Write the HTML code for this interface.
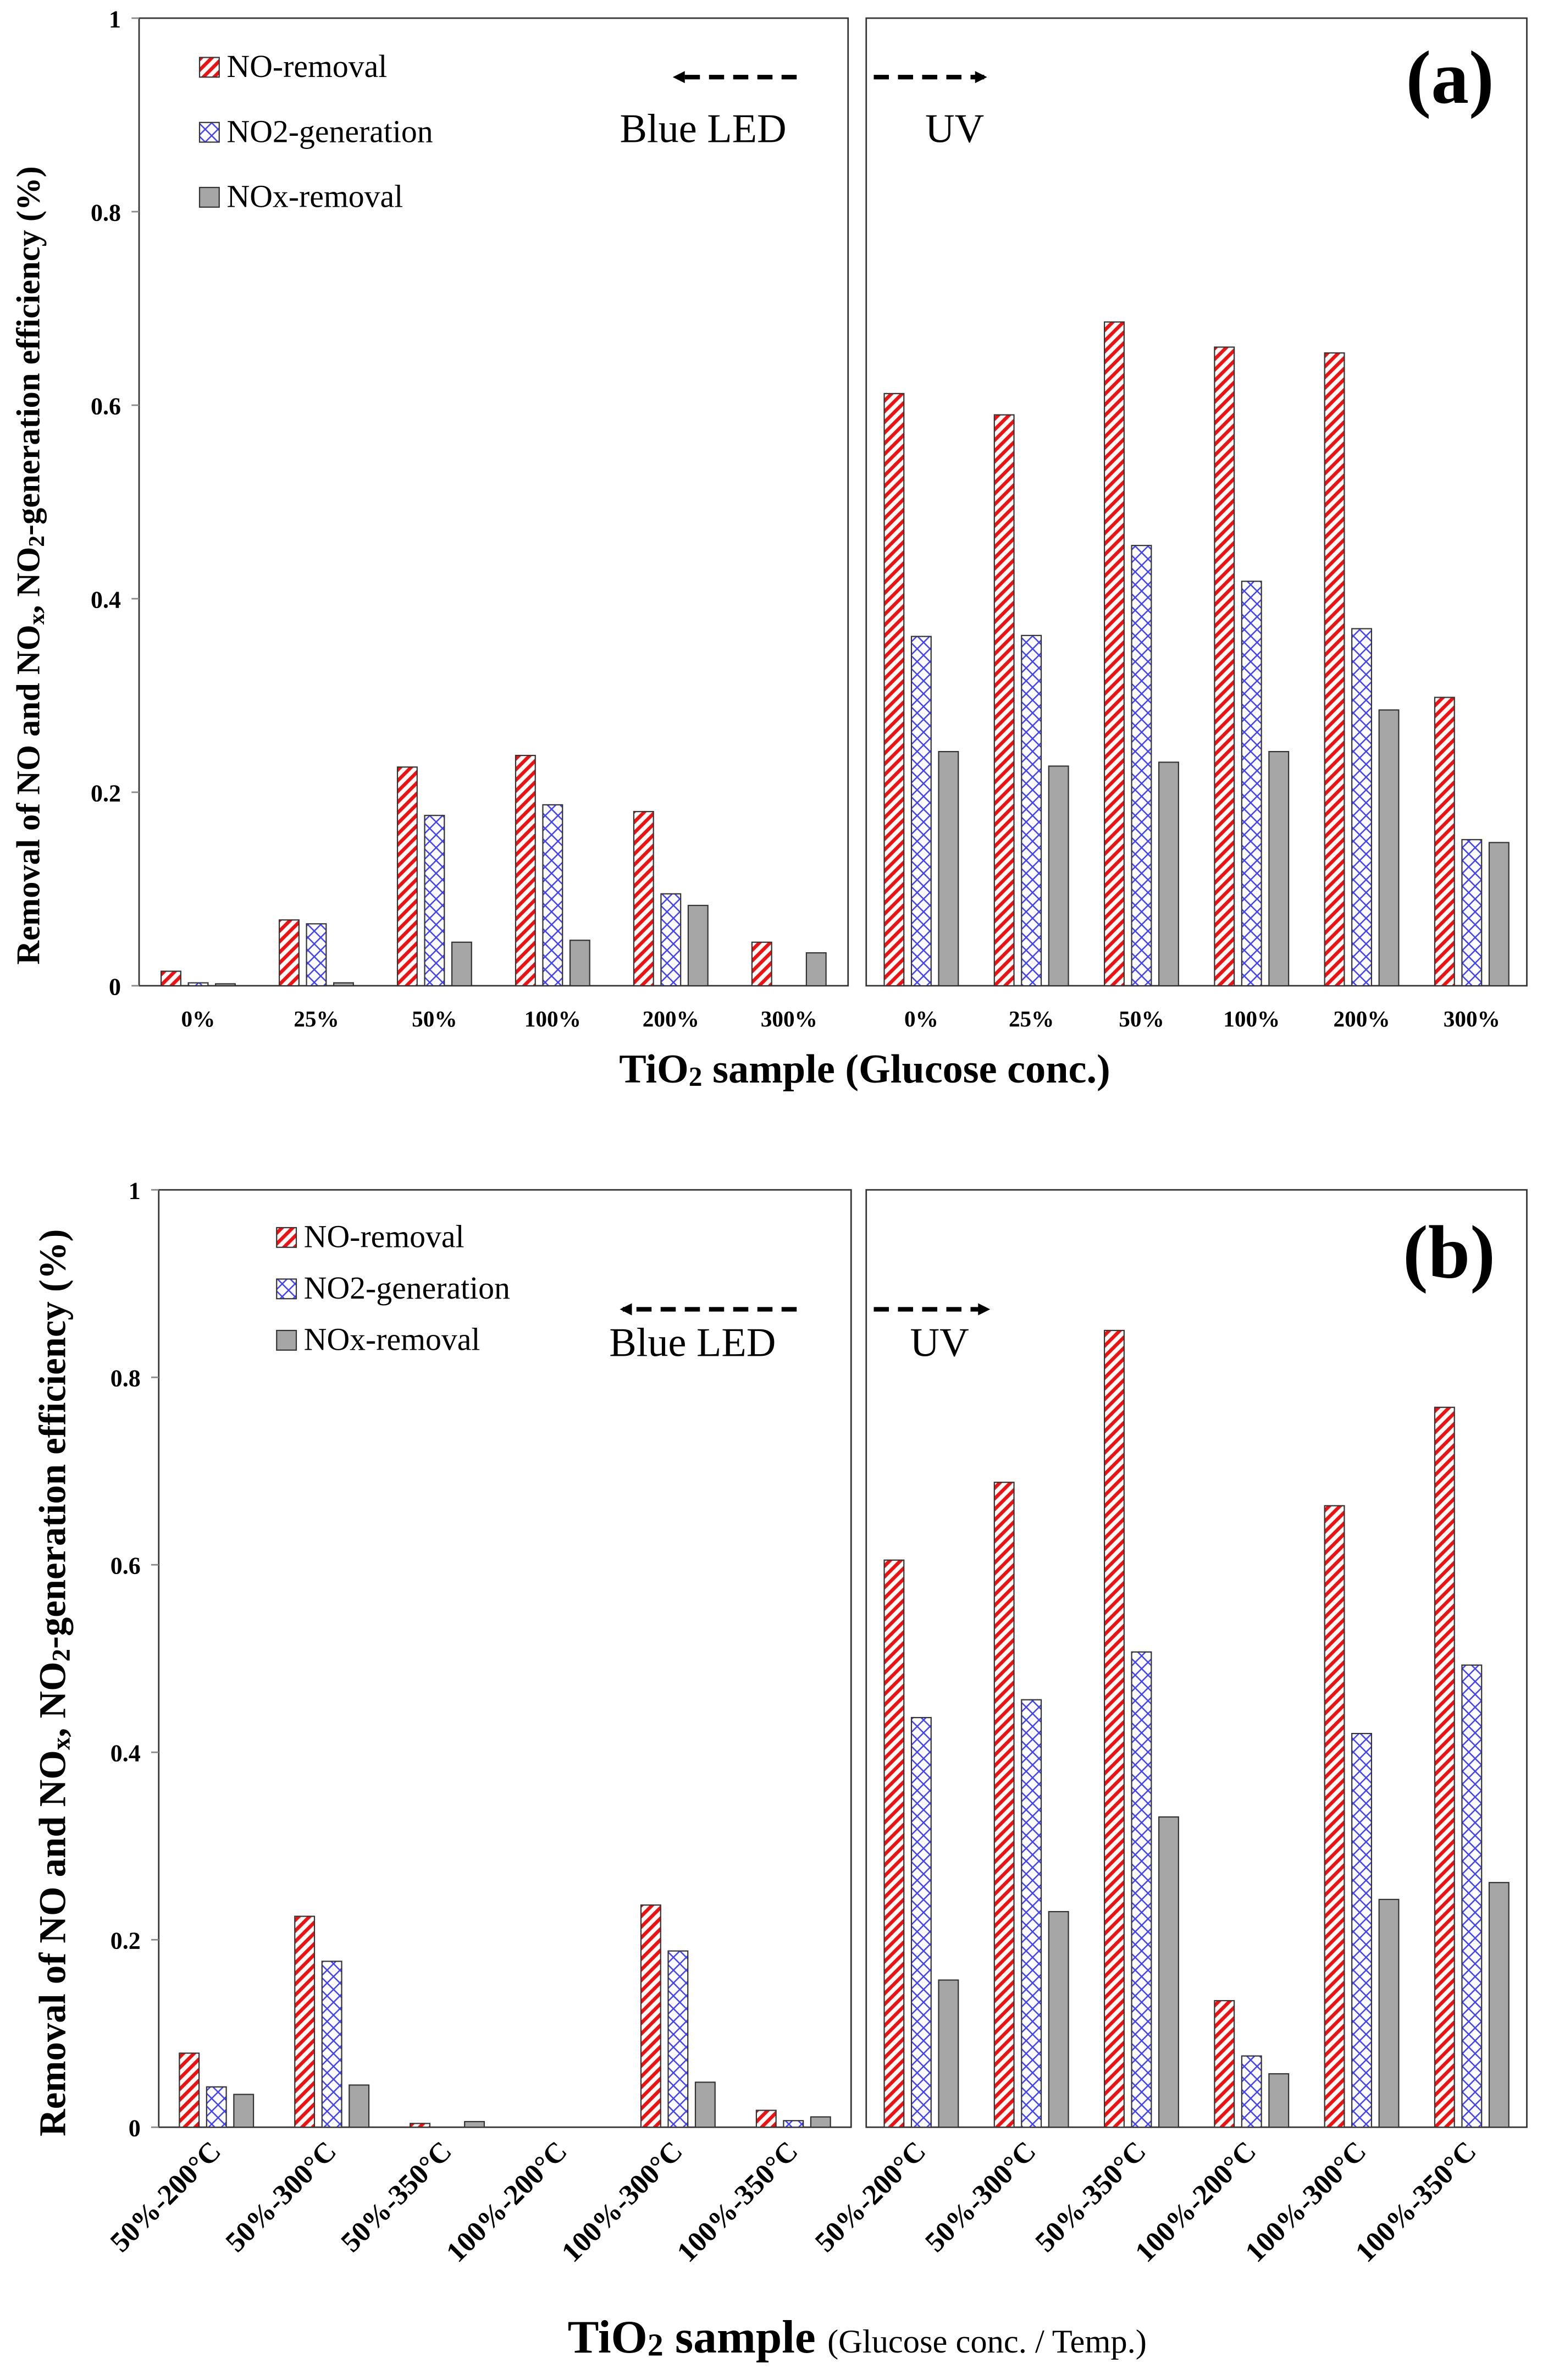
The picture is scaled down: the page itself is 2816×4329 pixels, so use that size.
<!DOCTYPE html>
<html><head><meta charset="utf-8"><style>html,body{margin:0;padding:0;background:#fff}svg{display:block}</style></head>
<body>
<svg id="fig" width="2816" height="4329" viewBox="0 0 1024 1574.2" xmlns="http://www.w3.org/2000/svg" font-family="Liberation Serif, serif">
<defs>
<pattern id="pRed" width="5" height="5" patternUnits="userSpaceOnUse" patternTransform="rotate(45)"><rect width="5" height="5" fill="#fff"/><rect width="2.3" height="5" fill="#f01010"/></pattern>
<pattern id="pBlue" width="6" height="6" patternUnits="userSpaceOnUse" patternTransform="rotate(45)"><rect width="6" height="6" fill="#fff"/><rect width="0.9" height="6" fill="#4040ff"/><rect width="6" height="0.9" fill="#4040ff"/></pattern>
<marker id="ah" markerWidth="8" markerHeight="8" refX="6" refY="4" orient="auto" markerUnits="userSpaceOnUse"><path d="M0,0 L8,4 L0,8 z" fill="#000"/></marker>
</defs>
<g id="root"></g>
</svg>
<script>
const catsA = ["0%","25%","50%","100%","200%","300%"];
const catsB = ["50%-200\u00B0C","50%-300\u00B0C","50%-350\u00B0C","100%-200\u00B0C","100%-300\u00B0C","100%-350\u00B0C"];
const aLeftNO  = [0.015,0.068,0.226,0.238,0.180,0.045];
const aLeftNO2 = [0.003,0.064,0.176,0.187,0.095,0.000];
const aLeftNOx = [0.002,0.003,0.045,0.047,0.083,0.034];
const aRightNO  = [0.612,0.590,0.686,0.660,0.654,0.298];
const aRightNO2 = [0.361,0.362,0.455,0.418,0.369,0.151];
const aRightNOx = [0.242,0.227,0.231,0.242,0.285,0.148];
const bLeftNO  = [0.079,0.225,0.004,0.000,0.237,0.018];
const bLeftNO2 = [0.043,0.177,0.000,0.000,0.188,0.007];
const bLeftNOx = [0.035,0.045,0.006,0.000,0.048,0.011];
const bRightNO  = [0.605,0.688,0.850,0.135,0.663,0.768];
const bRightNO2 = [0.437,0.456,0.507,0.076,0.420,0.493];
const bRightNOx = [0.157,0.230,0.331,0.057,0.243,0.261];
const yTicks = ["0","0.2","0.4","0.6","0.8","1"];

const NS="http://www.w3.org/2000/svg";
const root=document.getElementById('root');
function el(t,a,p){const e=document.createElementNS(NS,t);for(const k in a)e.setAttribute(k,a[k]);(p||root).appendChild(e);return e;}

function panel(x0,x1,yTop,yBot,cats,sNO,sNO2,sNOx,showY,name){
  const g=el('g',{});
  
  
  const ys=v=>yBot-(yBot-yTop)*v;
  const n=cats.length, w=(x1-x0)/n;
  const xc=i=>x0+w*(i+0.5);
  el('rect',{x:x0,y:yTop,width:x1-x0,height:yBot-yTop,fill:'none',stroke:'#333','stroke-width':1},g);
  if(showY){
    yTicks.forEach(t=>{const v=parseFloat(t);
      el('line',{x1:x0-5,x2:x0,y1:ys(v),y2:ys(v),stroke:'#888'},g);
      const tx=el('text',{x:x0-12,y:ys(v)+6,'text-anchor':'end','font-size':16,'font-weight':'bold'},g);
      tx.textContent=t;
      
      
    });
  }
  const bw=13, gap=5;
  [[sNO,'url(#pRed)','bar-no-removal'],[sNO2,'url(#pBlue)','bar-no2-generation'],[sNOx,'#a6a6a6','bar-nox-removal']].forEach((s,k)=>{
    s[0].forEach((v,i)=>{
      if(v<=0)return;
      const bx=xc(i)+(k-1)*(bw+gap)-bw/2;
      const r=el('rect',{x:bx,y:ys(v),width:bw,height:yBot-ys(v),fill:s[1],stroke:'#333','stroke-width':0.8},g);
      
      
    });
  });
  return {xc,g};
}

function legend(x,ys){
  const items=[['url(#pRed)','NO-removal'],['url(#pBlue)','NO2-generation'],['#a6a6a6','NOx-removal']];
  items.forEach((it,i)=>{
    const r=el('rect',{x:x,y:ys[i]-6,width:13,height:13,fill:it[0],stroke:'#333','stroke-width':0.8});
    
    
    const t=el('text',{x:x+18,y:ys[i]+7,'font-size':21});
    t.textContent=it[1];
    
    
  });
}
function txt(x,y,s,attrs,name){const t=el('text',Object.assign({x,y},attrs));t.textContent=s;return t;}
function arrows(y,lFrom,lTo,rFrom,rTo){
  el('line',{x1:lFrom,y1:y,x2:lTo,y2:y,stroke:'#000','stroke-width':3,'stroke-dasharray':'10,6','marker-end':'url(#ah)'});
  el('line',{x1:rFrom,y1:y,x2:rTo,y2:y,stroke:'#000','stroke-width':3,'stroke-dasharray':'10,6','marker-end':'url(#ah)'});
}
const yTitleHTML='Removal of NO and NO<tspan font-size="15" dy="3">x</tspan><tspan dy="-3">, NO</tspan><tspan font-size="15" dy="3">2</tspan><tspan dy="-3">-generation efficiency (%)</tspan>';

/* Panel (a) */
const aL=panel(92,561,12,652,catsA,aLeftNO,aLeftNO2,aLeftNOx,true,'panel-a-blue-led');
const aR=panel(573,1010,12,652,catsA,aRightNO,aRightNO2,aRightNOx,false,'panel-a-uv');
catsA.forEach((c,i)=>{txt(aL.xc(i),679,c,{'text-anchor':'middle','font-size':15,'font-weight':'bold'},'x-tick-label');txt(aR.xc(i),679,c,{'text-anchor':'middle','font-size':15,'font-weight':'bold'},'x-tick-label');});
legend(132,[44,87,130]);
arrows(51,527,447,578,651);
txt(410,94,'Blue LED',{'font-size':27},'blue-led-label');
txt(612,94,'UV',{'font-size':27},'uv-label');
txt(930,68,'(a)',{'font-size':50,'font-weight':'bold'},'panel-label-a');
const ta=txt(572,716,'',{'text-anchor':'middle','font-size':27,'font-weight':'bold'},'x-axis-title');
ta.innerHTML='TiO<tspan font-size="18" dy="2">2</tspan><tspan dy="-2"> sample (Glucose conc.)</tspan>';
const ya=txt(0,0,'',{'font-size':22,'font-weight':'bold','text-anchor':'middle',transform:'translate(26,374) rotate(-90)'},'y-axis-title');
ya.innerHTML=yTitleHTML;

/* Panel (b) */
const bL=panel(105,563,787,1407,catsB,bLeftNO,bLeftNO2,bLeftNOx,true,'panel-b-blue-led');
const bR=panel(573,1010,787,1407,catsB,bRightNO,bRightNO2,bRightNOx,false,'panel-b-uv');
catsB.forEach((c,i)=>{
  [bL,bR].forEach(p=>{const x=p.xc(i)+4;txt(x,1424,c,{'text-anchor':'end','font-size':19,'font-weight':'bold',transform:`rotate(-45 ${x} 1424)`},'x-tick-label');});
});
legend(183,[818,852,886]);
arrows(866,527,412,578,653);
txt(403,897,'Blue LED',{'font-size':27},'blue-led-label');
txt(602,897,'UV',{'font-size':27},'uv-label');
txt(928,845,'(b)',{'font-size':50,'font-weight':'bold'},'panel-label-b');
const tb=txt(567,1556,'',{'text-anchor':'middle','font-size':31,'font-weight':'bold'},'x-axis-title');
tb.innerHTML='TiO<tspan font-size="21" dy="2">2</tspan><tspan dy="-2"> sample </tspan><tspan font-size="22" font-weight="normal">(Glucose conc. / Temp.)</tspan>';
const yb=txt(0,0,'',{'font-size':25,'font-weight':'bold','text-anchor':'middle',transform:'translate(43,1113) rotate(-90)'},'y-axis-title');
yb.innerHTML=yTitleHTML.replace(/font-size="15"/g,'font-size="17"');
</script>
</body></html>
